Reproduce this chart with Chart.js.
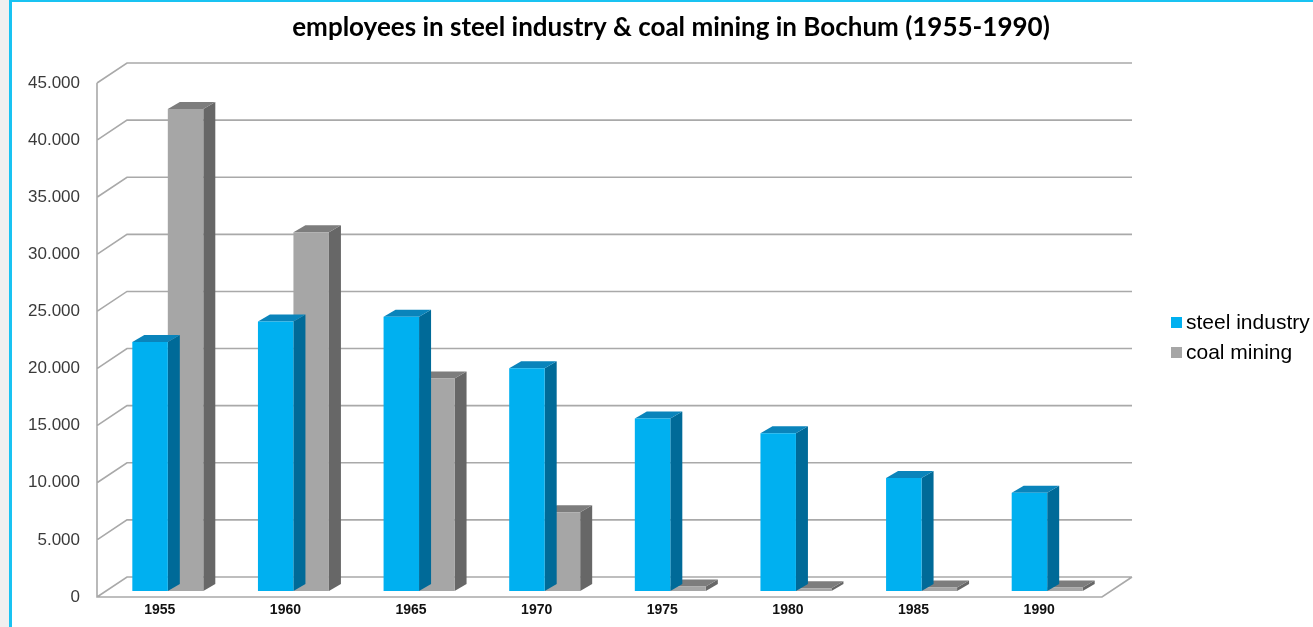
<!DOCTYPE html>
<html>
<head>
<meta charset="utf-8">
<script src="https://cdn.jsdelivr.net/npm/chart.js@4.4.1/dist/chart.umd.min.js"></script>
<style>
  html, body { margin: 0; padding: 0; background: #f0f0f0; }
  #frame {
    position: absolute; left: 9px; top: 0; width: 1304px; height: 627px;
    background: #fff; box-sizing: border-box;
    border-left: 3px solid #19c3f2; border-top: 2px solid #19c3f2;
  }
  #chart { position: absolute; left: 0; top: 0; }
</style>
</head>
<body>
<div id="frame"></div>
<canvas id="chart" width="1313" height="627"></canvas>
<script>
// values
const years = ['1955', '1960', '1965', '1970', '1975', '1980', '1985', '1990'];
const steelIndustry = [21800, 23600, 24000, 19500, 15100, 13800, 9900, 8600];
const coalMining = [42200, 31400, 18600, 6900, 400, 250, 300, 300];
const yTicks = [0, 5000, 10000, 15000, 20000, 25000, 30000, 35000, 40000, 45000];
const titleText = 'employees in steel industry & coal mining in Bochum (1955-1990)';

// depth of the back wall and of the bars
const wallDx = 30, wallDy = 20;
const barShiftX = 8, barShiftY = 6;
const barDx = 12, barDy = 7;

function fmt(v) {
    return String(v).replace(/\B(?=(\d{3})+(?!\d))/g, '.');
}

const wallPlugin = {
    id: 'wall',
    beforeDatasetsDraw(chart) {
        const ctx = chart.ctx;
        const area = chart.chartArea;
        const y = chart.scales.y;
        ctx.save();
        ctx.strokeStyle = '#a9a9a9';
        ctx.lineWidth = 1.6;
        ctx.beginPath();
        yTicks.forEach(t => {
            const py = y.getPixelForValue(t);
            ctx.moveTo(area.left, py);
            ctx.lineTo(area.left + wallDx, py - wallDy);
            ctx.lineTo(area.right + wallDx, py - wallDy);
        });
        // front left edge and floor
        ctx.moveTo(area.left, y.getPixelForValue(45000));
        ctx.lineTo(area.left, area.bottom);
        ctx.lineTo(area.right, area.bottom);
        ctx.lineTo(area.right + wallDx, area.bottom - wallDy);
        ctx.stroke();
        ctx.restore();

        ctx.save();
        ctx.translate(barShiftX, -barShiftY);
    },
    beforeDatasetDraw(chart, args) {
        const ctx = chart.ctx;
        const ds = chart.data.datasets[args.index];
        args.meta.data.forEach(el => {
            const p = el.getProps(['x', 'y', 'base', 'width'], true);
            const l = p.x - p.width / 2, r = p.x + p.width / 2;
            ctx.fillStyle = ds.sideColor;
            ctx.beginPath();
            ctx.moveTo(r, p.y);
            ctx.lineTo(r + barDx, p.y - barDy);
            ctx.lineTo(r + barDx, p.base - barDy);
            ctx.lineTo(r, p.base);
            ctx.closePath();
            ctx.fill();
            ctx.fillStyle = ds.topColor;
            ctx.beginPath();
            ctx.moveTo(l, p.y);
            ctx.lineTo(l + barDx, p.y - barDy);
            ctx.lineTo(r + barDx, p.y - barDy);
            ctx.lineTo(r, p.y);
            ctx.closePath();
            ctx.fill();
        });
    },
    afterDatasetsDraw(chart) {
        chart.ctx.restore();
    },
    afterDraw(chart) {
        const ctx = chart.ctx;
        ctx.save();
        ctx.fillStyle = '#000';
        ctx.font = 'bold 26px Lato';
        ctx.textAlign = 'center';
        ctx.textBaseline = 'middle';
        ctx.fillText(titleText, 671, 28);

        // legend
        ctx.font = '21px "Liberation Sans", Arial';
        ctx.textAlign = 'left';
        chart.data.datasets.forEach((ds, i) => {
            const ly = 322 + i * 30;
            ctx.fillStyle = ds.backgroundColor;
            ctx.fillRect(1171, ly - 5, 11, 11);
            ctx.fillStyle = '#000';
            ctx.fillText(ds.label, 1186, ly + 1);
        });
        ctx.restore();
    }
};

new Chart(document.getElementById('chart'), {
    type: 'bar',
    data: {
        labels: years,
        datasets: [{
            label: 'steel industry',
            data: steelIndustry,
            backgroundColor: '#00b0f0',
            sideColor: '#006a98',
            topColor: '#0a84bb',
        }, {
            label: 'coal mining',
            data: coalMining,
            backgroundColor: '#a6a6a6',
            sideColor: '#676767',
            topColor: '#7d7d7d',
        }]
    },
    options: {
        responsive: false,
        animation: false,
        layout: { padding: { left: 0, top: 83, right: 211, bottom: 0 } },
        categoryPercentage: 0.565,
        barPercentage: 1,
        plugins: {
            legend: { display: false },
            title: { display: false },
            tooltip: { enabled: false }
        },
        scales: {
            x: {
                grid: { display: false },
                border: { display: false },
                ticks: {
                    padding: -3,
                    color: '#111',
                    font: { family: '"Liberation Sans", Arial', size: 14, weight: 'bold' }
                },
                afterFit(scale) { scale.height = 30; }
            },
            y: {
                min: 0,
                max: 45000,
                grid: { display: false },
                border: { display: false },
                ticks: {
                    stepSize: 5000,
                    padding: 9,
                    color: '#3a3a3a',
                    font: { family: '"Liberation Sans", Arial', size: 17 },
                    callback: v => fmt(v)
                },
                afterFit(scale) { scale.width = 97; }
            }
        }
    },
    plugins: [wallPlugin]
});
</script>
</body>
</html>
